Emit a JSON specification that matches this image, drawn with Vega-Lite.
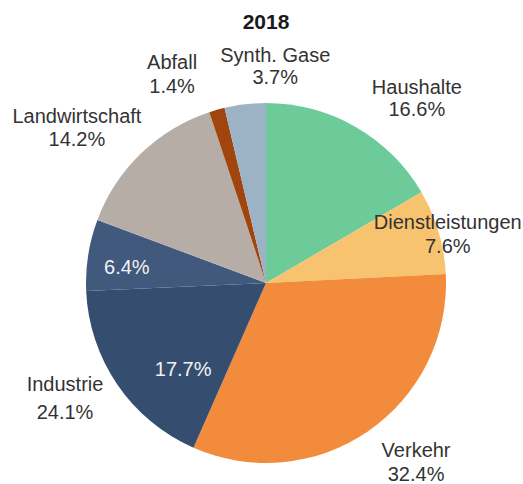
{
  "$schema": "https://vega.github.io/schema/vega-lite/v6.json",
  "width": 514,
  "height": 402,
  "autosize": {"type": "none"},
  "padding": {"left": 9, "top": 82, "right": 0, "bottom": 0},
  "background": "white",
  "title": {"text": "2018", "fontSize": 21, "fontWeight": "bold", "font": "Liberation Sans", "color": "#1a1a1a", "anchor": "middle", "baseline": "alphabetic", "offset": -26},
  "config": {"view": {"stroke": null}, "text": {"font": "Liberation Sans"}},
  "data": {"values": [
    {"key": "Haushalte", "value": 16.6, "order": 1, "label": "Haushalte\n16.6%", "inner": ""},
    {"key": "Dienstleistungen", "value": 7.6, "order": 2, "label": "Dienstleistungen\n7.6%", "inner": ""},
    {"key": "Verkehr", "value": 32.4, "order": 3, "label": "Verkehr\n32.4%", "inner": ""},
    {"key": "Industrie", "value": 17.7, "order": 4, "label": "Industrie\n24.1%", "inner": "17.7%"},
    {"key": "Industrie (gepunktet)", "value": 6.4, "order": 5, "label": "", "inner": "6.4%"},
    {"key": "Landwirtschaft", "value": 14.2, "order": 6, "label": "Landwirtschaft\n14.2%", "inner": ""},
    {"key": "Abfall", "value": 1.4, "order": 7, "label": "Abfall\n1.4%", "inner": ""},
    {"key": "Synth. Gase", "value": 3.7, "order": 8, "label": "Synth. Gase\n3.7%", "inner": ""}
  ]},
  "encoding": {
    "theta": {"field": "value", "type": "quantitative", "stack": true},
    "order": {"field": "order", "type": "quantitative"}
  },
  "layer": [
    {
      "mark": {"type": "arc", "outerRadius": 180},
      "encoding": {
        "color": {"field": "key", "type": "nominal", "legend": null,
          "scale": {"domain": ["Haushalte", "Dienstleistungen", "Verkehr", "Industrie", "Industrie (gepunktet)", "Landwirtschaft", "Abfall", "Synth. Gase"],
                    "range": ["#6dcb9a", "#f8c36e", "#f28b3c", "#354e70", "#41597d", "#b5ada6", "#a0450e", "#9cb3c6"]}}
      }
    },
    {
      "mark": {"type": "text", "fontSize": 20, "color": "#333333", "lineBreak": "\n", "lineHeight": 22, "dy": -11, "align": "center", "baseline": "middle", "thetaOffset": 0.165},
      "encoding": {"detail": {"field": "key"}, "radius": {"value": 238},
        "text": {"condition": {"test": "datum.key === 'Haushalte'", "field": "label"}, "value": ""}}
    },
    {
      "mark": {"type": "text", "fontSize": 20, "color": "#333333", "lineBreak": "\n", "lineHeight": 24, "dy": -12, "align": "center", "baseline": "middle", "thetaOffset": 0.031},
      "encoding": {"detail": {"field": "key"}, "radius": {"value": 188},
        "text": {"condition": {"test": "datum.key === 'Dienstleistungen'", "field": "label"}, "value": ""}}
    },
    {
      "mark": {"type": "text", "fontSize": 20, "color": "#333333", "lineBreak": "\n", "lineHeight": 24, "dy": -14, "align": "center", "baseline": "middle", "thetaOffset": -0.086},
      "encoding": {"detail": {"field": "key"}, "radius": {"value": 236},
        "text": {"condition": {"test": "datum.key === 'Verkehr'", "field": "label"}, "value": ""}}
    },
    {
      "mark": {"type": "text", "fontSize": 20, "color": "#333333", "lineBreak": "\n", "lineHeight": 28, "dy": -14, "align": "center", "baseline": "middle", "thetaOffset": 0.077},
      "encoding": {"detail": {"field": "key"}, "radius": {"value": 232},
        "text": {"condition": {"test": "datum.key === 'Industrie'", "field": "label"}, "value": ""}}
    },
    {
      "mark": {"type": "text", "fontSize": 20, "color": "#f2f2f2", "align": "center", "baseline": "middle", "thetaOffset": -0.209},
      "encoding": {"detail": {"field": "key"}, "radius": {"value": 120},
        "text": {"condition": {"test": "datum.key === 'Industrie'", "field": "inner"}, "value": ""}}
    },
    {
      "mark": {"type": "text", "fontSize": 20, "color": "#f2f2f2", "align": "center", "baseline": "middle", "thetaOffset": -0.049},
      "encoding": {"detail": {"field": "key"}, "radius": {"value": 140},
        "text": {"condition": {"test": "datum.key === 'Industrie (gepunktet)'", "field": "inner"}, "value": ""}}
    },
    {
      "mark": {"type": "text", "fontSize": 20, "color": "#333333", "lineBreak": "\n", "lineHeight": 23, "dy": -11.5, "align": "center", "baseline": "middle", "thetaOffset": -0.120},
      "encoding": {"detail": {"field": "key"}, "radius": {"value": 244},
        "text": {"condition": {"test": "datum.key === 'Landwirtschaft'", "field": "label"}, "value": ""}}
    },
    {
      "mark": {"type": "text", "fontSize": 20, "color": "#333333", "lineBreak": "\n", "lineHeight": 24, "dy": -12, "align": "center", "baseline": "middle", "thetaOffset": -0.148},
      "encoding": {"detail": {"field": "key"}, "radius": {"value": 228},
        "text": {"condition": {"test": "datum.key === 'Abfall'", "field": "label"}, "value": ""}}
    },
    {
      "mark": {"type": "text", "fontSize": 20, "color": "#333333", "lineBreak": "\n", "lineHeight": 22, "dy": -11, "align": "center", "baseline": "middle", "thetaOffset": 0.159},
      "encoding": {"detail": {"field": "key"}, "radius": {"value": 216},
        "text": {"condition": {"test": "datum.key === 'Synth. Gase'", "field": "label"}, "value": ""}}
    }
  ]
}
